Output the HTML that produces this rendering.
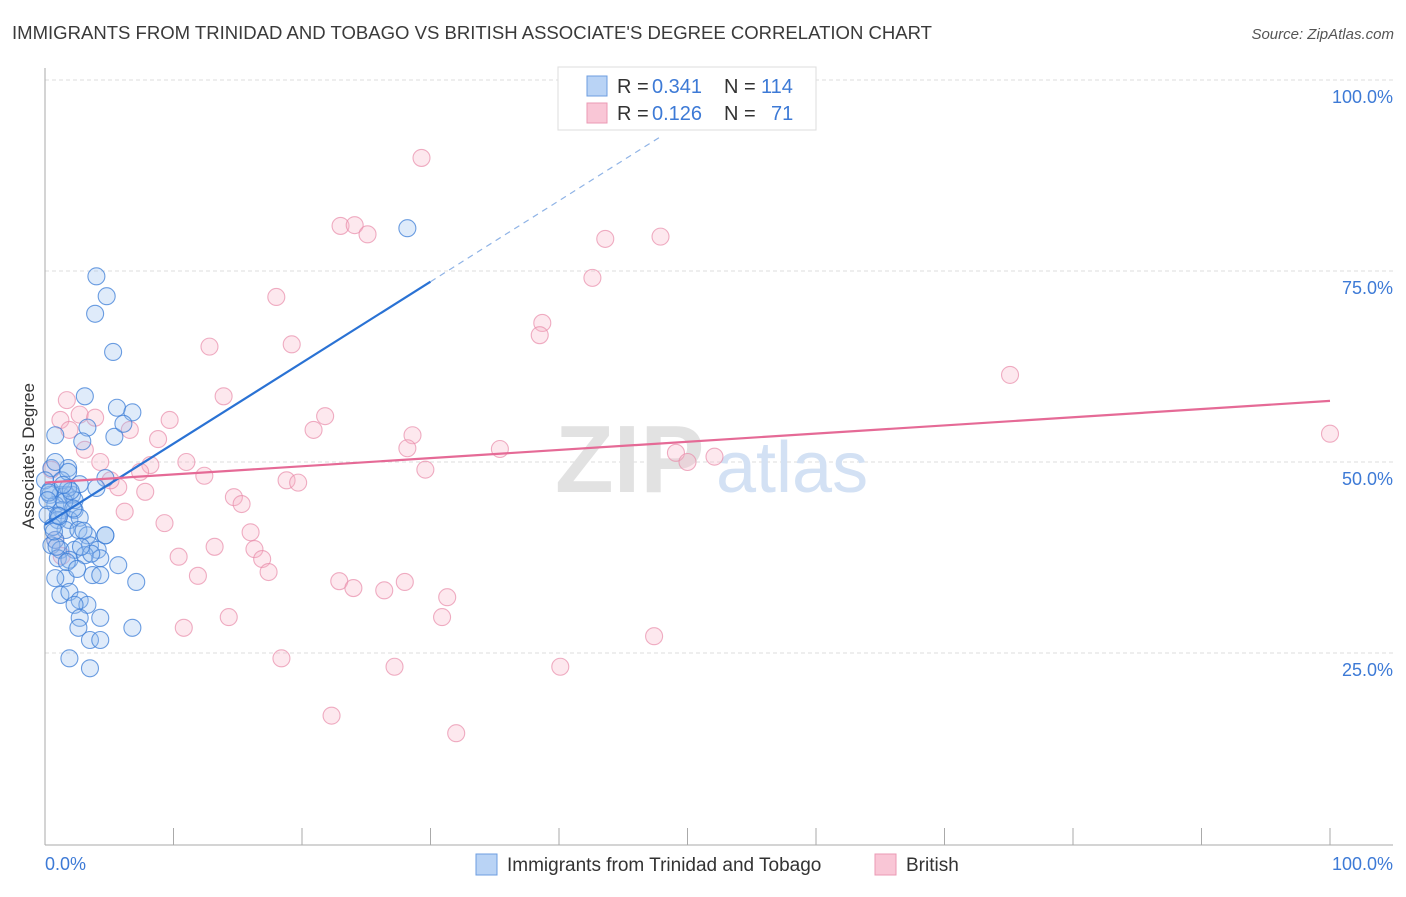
<!DOCTYPE html>
<html><head><meta charset="utf-8"><style>
body{margin:0;background:#fff;font-family:"Liberation Sans",sans-serif}
svg text{font-family:"Liberation Sans",sans-serif}
</style></head><body>
<svg id="chart" width="1406" height="892" viewBox="0 0 1406 892" xmlns="http://www.w3.org/2000/svg">
<text x="12" y="39" font-size="18.5" fill="#3a3a3a" textLength="920" lengthAdjust="spacingAndGlyphs">IMMIGRANTS FROM TRINIDAD AND TOBAGO VS BRITISH ASSOCIATE'S DEGREE CORRELATION CHART</text>
<text x="1394" y="39" font-size="15" fill="#555" text-anchor="end" font-style="italic">Source: ZipAtlas.com</text>
<g id="grid"></g>
<g>
<text x="555" y="492" font-size="96" fill="#e2e2e2" font-family="Liberation Serif" font-weight="bold">ZIP</text>
<text x="716" y="492" font-size="72" fill="#d3e1f4">atlas</text>
</g>
<line x1="45" y1="68" x2="45" y2="845" stroke="#aaa"/>
<line x1="45" y1="845" x2="1393" y2="845" stroke="#aaa"/>
<g id="ticks"></g>
<text transform="translate(34,456) rotate(-90)" font-size="17" fill="#333" text-anchor="middle">Associate's Degree</text>
<text x="45" y="870" font-size="18" fill="#3d7ad6">0.0%</text>
<text x="1393" y="870" font-size="18" fill="#3d7ad6" text-anchor="end">100.0%</text>
<g id="pinkpts"></g>
<g id="bluepts"></g>
<g id="lines"></g>
<g>
<rect x="558" y="67" width="258" height="63" fill="#fff" stroke="#ddd"/>
<rect x="587" y="76" width="20" height="20" fill="#b9d3f5" stroke="#6d9ee0"/>
<rect x="587" y="103" width="20" height="20" fill="#f9c6d6" stroke="#eb9ab4"/>
<text x="617" y="93" font-size="20" fill="#333">R =</text>
<text x="652" y="93" font-size="20" fill="#3d7ad6">0.341</text>
<text x="724" y="93" font-size="20" fill="#333">N =</text>
<text x="761" y="93" font-size="20" fill="#3d7ad6">114</text>
<text x="617" y="120" font-size="20" fill="#333">R =</text>
<text x="652" y="120" font-size="20" fill="#3d7ad6">0.126</text>
<text x="724" y="120" font-size="20" fill="#333">N =</text>
<text x="771" y="120" font-size="20" fill="#3d7ad6">71</text>
</g>
<g>
<rect x="476" y="854" width="21" height="21" fill="#b9d3f5" stroke="#6d9ee0"/>
<text x="507" y="871" font-size="19" fill="#333">Immigrants from Trinidad and Tobago</text>
</g>
<g>
<rect x="875" y="854" width="21" height="21" fill="#f9c6d6" stroke="#eb9ab4"/>
<text x="906" y="871" font-size="19" fill="#333">British</text>
</g>
</svg>
<script>
const yTicks=[25,50,75,100];
const yTickLabels=["25.0%","50.0%","75.0%","100.0%"];
const xTickVals=[0,10,20,30,40,50,60,70,80,90,100];
const blueX=[0.8,1.8,0.5,1.2,0.4,1.6,2.1,0.8,1.3,2.3,0.2,1.0,1.9,2.7,1.6,2.6,0.8,3.3,4.7,0.5,1.2,2.3,3.5,4.1,1.0,1.9,3.1,4.3,5.7,1.6,3.7,4.3,0.8,1.2,1.9,2.7,3.3,2.3,4.3,2.7,2.6,3.5,4.3,1.9,3.5,6.8,7.1,4.7,4.0,4.8,3.9,5.3,3.1,5.6,6.8,3.3,5.4,2.9,6.1,4.7,2.7,4.0,0.0,0.4,1.3,1.8,28.2,0.8,2.3,1.8,0.3,1.5,2.0,1.0,0.6,1.4,2.2,3.0,0.9,1.7,2.5,0.2,0.7,1.1,3.6,2.8];
const blueY=[53.5,49.2,49.2,45.7,45.7,45.7,45.7,44.4,43.7,43.7,43.1,42.4,42.4,42.7,41.1,41.1,39.8,40.4,40.4,39.1,38.5,38.5,39.1,38.5,37.4,37.2,37.8,37.4,36.5,34.8,35.2,35.2,34.8,32.6,33.0,31.9,31.3,31.3,29.6,29.6,28.3,26.7,26.7,24.3,23.0,28.3,34.3,40.4,74.3,71.7,69.4,64.4,58.6,57.1,56.5,54.5,53.3,52.7,55.0,47.9,47.1,46.6,47.6,46.3,47.6,48.7,80.6,50.0,45.0,46.6,46.0,44.8,46.2,43.0,41.5,47.0,43.9,41.0,38.9,36.9,36.0,45.0,40.9,42.9,38.0,38.9];
const pinkX=[29.3,23.0,24.1,25.1,43.6,47.9,42.6,18.0,38.7,38.5,12.8,19.2,13.9,75.1,1.7,1.2,2.7,3.9,6.6,9.7,8.8,21.8,20.9,28.6,28.2,35.4,100,49.1,50.0,52.1,4.3,8.2,11.0,7.4,12.4,29.6,5.7,7.8,18.8,19.7,14.7,15.3,6.2,9.3,16.0,13.2,16.3,16.9,10.4,17.4,11.9,22.9,24.0,26.4,28.0,31.3,30.9,14.3,10.8,47.4,18.4,27.2,40.1,22.3,32.0,0.5,0.8,1.3,3.1,5.1,1.9];
const pinkY=[89.8,80.9,81.0,79.8,79.2,79.5,74.1,71.6,68.2,66.6,65.1,65.4,58.6,61.4,58.1,55.5,56.2,55.8,54.2,55.5,53.0,56.0,54.2,53.5,51.8,51.7,53.7,51.2,50.0,50.7,50.0,49.6,50.0,48.7,48.2,49.0,46.7,46.1,47.6,47.3,45.4,44.5,43.5,42.0,40.8,38.9,38.6,37.3,37.6,35.6,35.1,34.4,33.5,33.2,34.3,32.3,29.7,29.7,28.3,27.2,24.3,23.2,23.2,16.8,14.5,49.0,39.8,37.7,51.6,47.6,54.2];
const blueTrend=[41.8,73.6];const blueTrendX=[0,30];const blueDashEndX=48;
const pinkTrend=[47.3,58.0];const pinkTrendX=[0,100];
const NS="http://www.w3.org/2000/svg";
function xs(v){return 45+v*12.85;}
function ys(v){return 844-v*7.64;}
function mk(tag,attrs,parent){const e=document.createElementNS(NS,tag);for(const k in attrs)e.setAttribute(k,attrs[k]);document.getElementById(parent).appendChild(e);return e;}
yTicks.forEach((t,i)=>{
 const l=mk('line',{x1:45,x2:1393,y1:ys(t),y2:ys(t),stroke:'#ddd','stroke-dasharray':'4,3'},'grid');
 
 
 const tx=mk('text',{x:1393,y:ys(t)+23,'font-size':18,fill:'#3d7ad6','text-anchor':'end'},'grid');
 tx.textContent=yTickLabels[i];
 
 
});
xTickVals.forEach(t=>{
 const l=mk('line',{x1:xs(t),x2:xs(t),y1:828,y2:845,stroke:'#aaa'},'ticks');
 
 
});
pinkX.forEach((x,i)=>{
 const c=mk('circle',{cx:xs(x),cy:ys(pinkY[i]),r:8.5,fill:'rgba(247,178,200,0.3)',stroke:'rgba(232,140,170,0.7)','stroke-width':1.1},'pinkpts');
 
 
});
blueX.forEach((x,i)=>{
 const c=mk('circle',{cx:xs(x),cy:ys(blueY[i]),r:8.5,fill:'rgba(150,190,240,0.3)',stroke:'rgba(60,125,215,0.75)','stroke-width':1.1},'bluepts');
 
 
});
const bs=(blueTrend[1]-blueTrend[0])/(blueTrendX[1]-blueTrendX[0]);
const bl=mk('line',{x1:xs(blueTrendX[0]),y1:ys(blueTrend[0]),x2:xs(blueTrendX[1]),y2:ys(blueTrend[1]),stroke:'#2a72d4','stroke-width':2.2},'lines');


const bd=mk('line',{x1:xs(blueTrendX[1]),y1:ys(blueTrend[1]),x2:xs(blueDashEndX),y2:ys(blueTrend[0]+bs*blueDashEndX),stroke:'#8fb3e6','stroke-width':1.2,'stroke-dasharray':'6,5'},'lines');


const pl=mk('line',{x1:xs(pinkTrendX[0]),y1:ys(pinkTrend[0]),x2:xs(pinkTrendX[1]),y2:ys(pinkTrend[1]),stroke:'#e56a96','stroke-width':2.2},'lines');


</script>
</body></html>
